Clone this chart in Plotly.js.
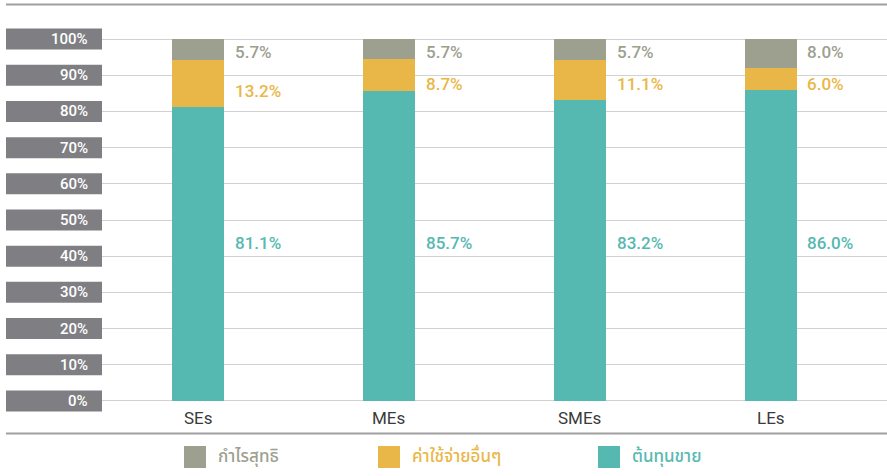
<!DOCTYPE html>
<html>
<head>
<meta charset="utf-8">
<script src="https://cdn.plot.ly/plotly-3.0.1.min.js"></script>
<style>html,body{margin:0;padding:0;background:#fff;}#chart{width:887px;height:476px;}</style>
</head>
<body>
<div id="chart"></div>
<script>
// ---- data ----
const categories = ['SEs', 'MEs', 'SMEs', 'LEs'];
const seriesNames = ['ต้นทุนขาย', 'ค่าใช้จ่ายอื่นๆ', 'กำไรสุทธิ'];
const costOfSales = [81.1, 85.7, 83.2, 86.0];
const otherExpenses = [13.2, 8.7, 11.1, 6.0];
const netProfit = [5.7, 5.7, 5.7, 8.0];
const yTickValues = [0, 10, 20, 30, 40, 50, 60, 70, 80, 90, 100];
const yTickLabels = ['0%', '10%', '20%', '30%', '40%', '50%', '60%', '70%', '80%', '90%', '100%'];

// ---- style ----
const colors = ['#56b9b1', '#e9b748', '#9d9f8f'];
const boxColor = '#7f7f83';
const latinFont = 'Roboto, Liberation Sans, Arial, sans-serif';
const W = 887, H = 476;
const M = {l: 102, r: 0, t: 21, b: 57};
const plotW = W - M.l - M.r, plotH = H - M.t - M.b;
const px2x = px => (px - M.l) / plotW;
const py2y = py => (H - M.b - py) / plotH;

const seriesValues = [costOfSales, otherExpenses, netProfit];
const traces = seriesValues.map((vals, k) => ({
  type: 'bar',
  x: categories,
  y: vals,
  name: seriesNames[k],
  width: 0.272,
  marker: {color: colors[k], line: {width: 0}},
  hoverinfo: 'none',
  showlegend: false
}));

const shapes = [];
const annotations = [];

// frame lines
shapes.push({type: 'line', xref: 'paper', yref: 'paper', x0: px2x(6), x1: 1, y0: py2y(4.5), y1: py2y(4.5), line: {color: '#a0a0a0', width: 2}});
shapes.push({type: 'line', xref: 'paper', yref: 'paper', x0: px2x(6), x1: 1, y0: py2y(433.5), y1: py2y(433.5), line: {color: '#a0a0a0', width: 2}});

// y tick boxes
yTickValues.forEach((v, i) => {
  shapes.push({type: 'rect', xref: 'paper', yref: 'y', x0: px2x(6), x1: 0, y0: v - 2.9, y1: v + 2.9,
    fillcolor: boxColor, line: {width: 0}, layer: 'above'});
  annotations.push({xref: 'paper', yref: 'y', x: px2x(90), y: v, xanchor: 'right', yanchor: 'middle',
    text: yTickLabels[i], showarrow: false, font: {family: latinFont, size: 15, weight: 500, color: '#ffffff'}});
});

// category labels
categories.forEach((c, i) => {
  annotations.push({xref: 'x', yref: 'y', x: i, y: -4.7, xanchor: 'center', yanchor: 'middle', text: c, showarrow: false,
    font: {family: latinFont, size: 17, weight: 400, color: '#3a3a3a'}});
});

// value labels (positions in y units)
const labelOffsetX = 0.182;
const labelY = [
  [43.7, 43.7, 43.7, 43.7],
  [85.7, 87.6, 87.6, 87.6],
  [96.5, 96.5, 96.5, 96.5]
];
seriesValues.forEach((vals, k) => {
  vals.forEach((v, i) => {
    annotations.push({xref: 'x', yref: 'y', x: i + labelOffsetX, y: labelY[k][i], xanchor: 'left', yanchor: 'middle',
      text: v.toFixed(1) + '%', showarrow: false,
      font: {family: latinFont, size: 17, weight: 500, color: colors[k]}});
  });
});

// custom legend
const legendOrder = [2, 1, 0];
const legendSquareX = [184, 378, 598];
legendOrder.forEach((k, j) => {
  const x0 = legendSquareX[j];
  shapes.push({type: 'rect', xref: 'paper', yref: 'paper', x0: px2x(x0), x1: px2x(x0 + 22), y0: py2y(468), y1: py2y(446),
    fillcolor: colors[k], line: {width: 0}});
  annotations.push({xref: 'paper', yref: 'paper', x: px2x(x0 + 32), y: py2y(457), xanchor: 'left', yanchor: 'middle',
    text: seriesNames[k], showarrow: false,
    font: {family: 'Noto Sans Thai, Noto Sans, sans-serif', size: 17, weight: 500, color: colors[k]}});
});

const layout = {
  width: W, height: H,
  margin: M,
  paper_bgcolor: '#ffffff', plot_bgcolor: '#ffffff',
  barmode: 'stack',
  showlegend: false,
  xaxis: {type: 'category', range: [-0.503, 3.609], showgrid: false, zeroline: false, showline: false,
    showticklabels: false, ticks: '', fixedrange: true},
  yaxis: {range: [-5, 105], tickvals: yTickValues, showgrid: true, gridcolor: '#d2d2d2', gridwidth: 1,
    zeroline: false, showline: false, showticklabels: false, ticks: '', fixedrange: true},
  shapes: shapes,
  annotations: annotations
};

Plotly.newPlot('chart', traces, layout, {displayModeBar: false, staticPlot: true});
</script>
</body>
</html>
